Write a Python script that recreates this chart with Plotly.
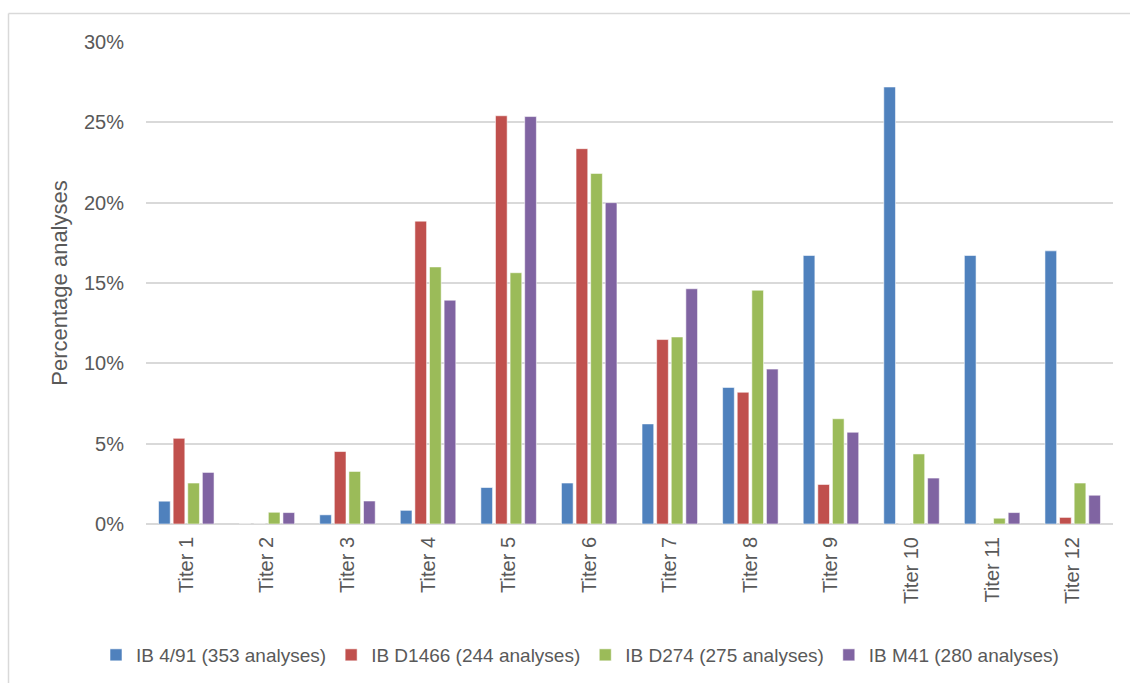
import plotly.graph_objects as go

# Titer classes on the x axis
titers = ["Titer 1", "Titer 2", "Titer 3", "Titer 4", "Titer 5", "Titer 6",
          "Titer 7", "Titer 8", "Titer 9", "Titer 10", "Titer 11", "Titer 12"]

# Share of analyses per titer class (%)
ib_491 = [1.42, 0.0, 0.57, 0.85, 2.27, 2.55, 6.23, 8.50, 16.71, 27.20, 16.71, 17.00]
ib_d1466 = [5.33, 0.0, 4.51, 18.85, 25.41, 23.36, 11.48, 8.20, 2.46, 0.0, 0.0, 0.41]
ib_d274 = [2.55, 0.73, 3.27, 16.00, 15.64, 21.82, 11.64, 14.55, 6.55, 4.36, 0.36, 2.55]
ib_m41 = [3.21, 0.71, 1.43, 13.93, 25.36, 20.00, 14.64, 9.64, 5.71, 2.86, 0.71, 1.79]

series_names = ["IB 4/91 (353 analyses)", "IB D1466 (244 analyses)",
                "IB D274 (275 analyses)", "IB M41 (280 analyses)"]
series_values = [ib_491, ib_d1466, ib_d274, ib_m41]
colors = ["#4F81BD", "#C0504D", "#9BBB59", "#8064A2"]

y_ticks = [0, 5, 10, 15, 20, 25, 30]
y_tick_labels = ["0%", "5%", "10%", "15%", "20%", "25%", "30%"]

FONT = "Liberation Sans"
TEXT = "#595959"
GRID = "#D9D9D9"

fig = go.Figure()
for name, vals, col in zip(series_names, series_values, colors):
    fig.add_trace(go.Bar(
        x=titers, y=vals, name=name,
        marker=dict(color=col, line=dict(color="rgba(255,255,255,0.55)", width=1)),
    ))

W, H = 1130, 683
L, R, T, B = 146, 17, 42, 159
pw, ph = W - L - R, H - T - B

def px_x(p):
    return (p - L) / pw

def px_y(p):
    return (H - B - p) / ph

fig.update_layout(
    width=W, height=H,
    margin=dict(l=L, r=R, t=T, b=B, autoexpand=False),
    paper_bgcolor="white", plot_bgcolor="white",
    barmode="group", bargap=0.275, bargroupgap=0.2,
    font=dict(family=FONT, color=TEXT, size=20),
    showlegend=True,
    legend=dict(
        orientation="h",
        xref="container", x=580 / W, xanchor="center",
        yref="container", y=(H - 655) / H, yanchor="middle",
        font=dict(family=FONT, size=19, color=TEXT),
        itemwidth=30, traceorder="normal",
    ),
    xaxis=dict(
        tickangle=-90, showgrid=False, showline=False, ticks="",
        ticklabelstandoff=8, automargin=False,
        tickfont=dict(family=FONT, size=20, color=TEXT),
    ),
    yaxis=dict(
        range=[0, 30], tickvals=y_ticks, ticktext=y_tick_labels,
        showgrid=True, gridcolor=GRID, gridwidth=1.5,
        zeroline=True, zerolinecolor=GRID, zerolinewidth=2,
        showline=False, ticks="", ticklen=0,
        ticklabelstandoff=21, automargin=False,
        tickfont=dict(family=FONT, size=20, color=TEXT),
        title=dict(text="Percentage analyses", standoff=10,
                   font=dict(family=FONT, size=22, color=TEXT)),
    ),
    shapes=[
        # chart frame (left and top edges)
        dict(type="line", xref="paper", yref="paper",
             x0=px_x(8.5), x1=px_x(8.5), y0=px_y(13.5), y1=px_y(700),
             line=dict(color=GRID, width=1.5)),
        dict(type="line", xref="paper", yref="paper",
             x0=px_x(8.5), x1=px_x(1200), y0=px_y(13.5), y1=px_y(13.5),
             line=dict(color=GRID, width=1.5)),
    ],
)

fig.write_html("out.html")
